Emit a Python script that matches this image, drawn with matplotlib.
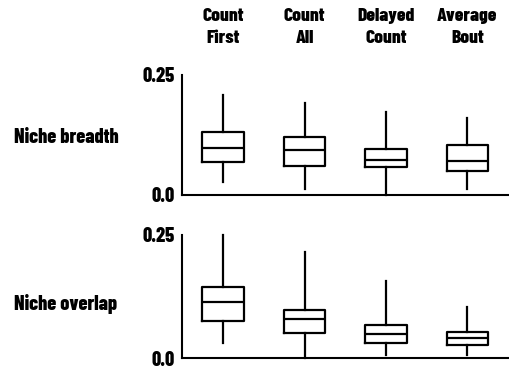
import matplotlib
matplotlib.use("Agg")
import matplotlib.pyplot as plt
from matplotlib.transforms import blended_transform_factory

plt.rcParams['font.family'] = ['Barlow Condensed', 'DejaVu Sans']
plt.rcParams['font.weight'] = 800
plt.rcParams['axes.linewidth'] = 1.5

# column headers and row labels
methods = ["Count\nFirst", "Count\nAll", "Delayed\nCount", "Average\nBout"]
rows = ["Niche breadth", "Niche overlap"]
ytick_values = [0.0, 0.25]
ytick_labels = ["0.0", "0.25"]

# box statistics
breadth_whislo = [0.028, 0.0125, 0.0, 0.0125]
breadth_q1 = [0.069, 0.061, 0.058, 0.051]
breadth_med = [0.098, 0.094, 0.072, 0.070]
breadth_q3 = [0.131, 0.121, 0.096, 0.104]
breadth_whishi = [0.208, 0.191, 0.172, 0.161]

overlap_whislo = [0.031, 0.001, 0.007, 0.007]
overlap_q1 = [0.076, 0.051, 0.031, 0.027]
overlap_med = [0.115, 0.080, 0.049, 0.041]
overlap_q3 = [0.144, 0.098, 0.067, 0.053]
overlap_whishi = [0.25, 0.215, 0.157, 0.104]


def make_stats(whislo, q1, med, q3, whishi):
    return [dict(whislo=a, q1=b, med=c, q3=d, whishi=e, fliers=[])
            for a, b, c, d, e in zip(whislo, q1, med, q3, whishi)]


def draw_panel(ax, stats):
    line = dict(color="black", linewidth=1.6)
    ax.bxp(stats, positions=range(1, len(stats) + 1), widths=0.51,
           showcaps=False, showfliers=False,
           boxprops=line, whiskerprops=line, medianprops=line)
    ax.set_xlim(0.49, 4.5)
    ax.set_ylim(0, 0.25)
    ax.spines["top"].set_visible(False)
    ax.spines["right"].set_visible(False)
    ax.set_xticks([])
    ax.set_yticks(ytick_values)
    ax.set_yticklabels(ytick_labels, fontsize=14.5, fontweight=800)
    ax.tick_params(axis="y", length=0, pad=5)
    for artist in ax.lines:
        artist.set_clip_on(False)


fig = plt.figure(figsize=(5.1, 3.7), dpi=100)
ax_top = fig.add_axes([0.3563, 0.4730, 0.6398, 0.3243])
ax_bot = fig.add_axes([0.3563, 0.0311, 0.6398, 0.3338])

draw_panel(ax_top, make_stats(breadth_whislo, breadth_q1, breadth_med,
                              breadth_q3, breadth_whishi))
draw_panel(ax_bot, make_stats(overlap_whislo, overlap_q1, overlap_med,
                              overlap_q3, overlap_whishi))

# headers above the columns, one line at a time
trans = blended_transform_factory(ax_top.transData, fig.transFigure)
for i, name in enumerate(methods):
    first, second = name.split("\n")
    ax_top.text(i + 1, 1 - 20.7 / 370, first, transform=trans, ha="center",
                va="baseline", fontsize=14, fontweight=800)
    ax_top.text(i + 1, 1 - 42.7 / 370, second, transform=trans, ha="center",
                va="baseline", fontsize=14, fontweight=800)

fig.text(14 / 510, 1 - 143 / 370, rows[0], ha="left", va="baseline",
         fontsize=14.5, fontweight=800)
fig.text(14 / 510, 1 - 310 / 370, rows[1], ha="left", va="baseline",
         fontsize=14.5, fontweight=800)

fig.savefig("out.png", dpi=100)
